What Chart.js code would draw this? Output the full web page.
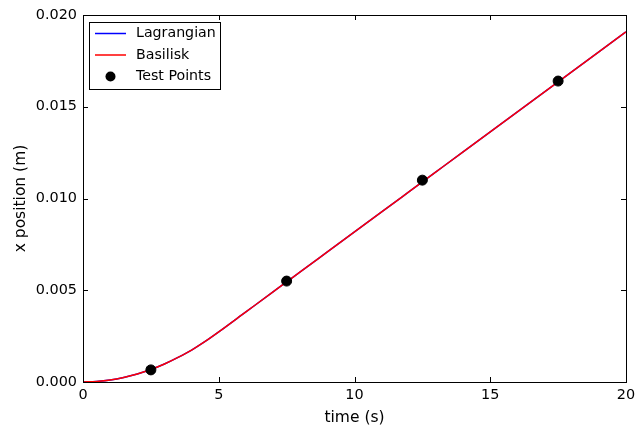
<!DOCTYPE html>
<html>
<head>
<meta charset="utf-8">
<script src="https://cdn.jsdelivr.net/npm/chart.js@4/dist/chart.umd.min.js"></script>
<style>
  html, body { margin: 0; padding: 0; background: #fff; }
  #wrap { width: 637px; height: 431px; }
</style>
</head>
<body>
<div id="wrap"><canvas id="chart"></canvas></div>
<script>
const timeVals = [0, 0.5, 1, 1.5, 2, 2.5, 3, 3.5, 4, 4.5, 5, 6, 7, 7.5, 8, 9, 10, 11, 12, 13, 14, 15, 16, 17, 18, 19, 20];
const lagrangianVals = [0, 0.00003, 0.00011, 0.00025, 0.00044, 0.00068, 0.00098, 0.00134, 0.00174, 0.00221, 0.00273, 0.00382, 0.00491, 0.00546, 0.006, 0.00709, 0.00818, 0.00927, 0.01036, 0.01145, 0.01254, 0.01363, 0.01472, 0.01581, 0.0169, 0.01799, 0.01908];
const basiliskVals = [0, 0.00003, 0.00011, 0.00025, 0.00044, 0.00068, 0.00098, 0.00134, 0.00174, 0.00221, 0.00273, 0.00382, 0.00491, 0.00546, 0.006, 0.00709, 0.00818, 0.00927, 0.01036, 0.01145, 0.01254, 0.01363, 0.01472, 0.01581, 0.0169, 0.01799, 0.01908];
const testTimes = [2.5, 7.5, 12.5, 17.5];
const testVals = [0.00066, 0.0055, 0.011, 0.0164];
const xTicks = [0, 5, 10, 15, 20];
const yTicks = [0, 0.005, 0.010, 0.015, 0.020];

const FONT = "'DejaVu Sans', sans-serif";
const toPts = (xs, ys) => xs.map((x, i) => ({ x: x, y: ys[i] }));

// frame, inward ticks on all four sides, and the legend box
const framePlugin = {
  id: "frame",
  afterDatasetsDraw(chart) {
    const c = chart.ctx;
    const a = chart.chartArea;
    const xs = chart.scales.x, ys = chart.scales.y;
    c.save();
    c.strokeStyle = "#000";
    c.lineWidth = 1;
    c.beginPath();
    xTicks.forEach((t) => {
      const px = Math.round(xs.getPixelForValue(t)) + 0.5;
      c.moveTo(px, a.bottom); c.lineTo(px, a.bottom - 5);
      c.moveTo(px, a.top); c.lineTo(px, a.top + 5);
    });
    yTicks.forEach((t) => {
      const py = Math.round(ys.getPixelForValue(t)) + 0.5;
      c.moveTo(a.left, py); c.lineTo(a.left + 5, py);
      c.moveTo(a.right, py); c.lineTo(a.right - 5, py);
    });
    c.stroke();
    c.strokeRect(Math.round(a.left) + 0.5, Math.round(a.top) + 0.5,
      Math.round(a.right - a.left), Math.round(a.bottom - a.top));

    // legend
    const lx = Math.round(a.left) + 6, ly = Math.round(a.top) + 7;
    c.fillStyle = "#fff";
    c.fillRect(lx, ly, 131, 67);
    c.strokeRect(lx + 0.5, ly + 0.5, 131, 67);
    const items = chart.data.datasets;
    c.font = "14.2px " + FONT;
    c.textBaseline = "middle";
    items.forEach((ds, i) => {
      const yy = ly + 11.5 + i * 21.5;
      if (ds.showLine) {
        c.strokeStyle = ds.borderColor;
        c.lineWidth = 1.5;
        c.beginPath(); c.moveTo(lx + 6, yy); c.lineTo(lx + 37, yy); c.stroke();
      } else {
        c.fillStyle = "#000";
        c.beginPath(); c.arc(lx + 21.5, yy, 5, 0, Math.PI * 2); c.fill();
      }
      c.fillStyle = "#000";
      c.fillText(ds.label, lx + 47, yy);
    });
    c.restore();
  },
};

new Chart(document.getElementById("chart"), {
  type: "scatter",
  data: {
    datasets: [
      {
        label: "Lagrangian",
        data: toPts(timeVals, lagrangianVals),
        showLine: true,
        borderColor: "#0000ff",
        borderWidth: 1.5,
        pointRadius: 0,
        cubicInterpolationMode: "monotone",
        order: 3,
      },
      {
        label: "Basilisk",
        data: toPts(timeVals, basiliskVals),
        showLine: true,
        borderColor: "#ff0000",
        borderWidth: 1.5,
        pointRadius: 0,
        cubicInterpolationMode: "monotone",
        order: 2,
      },
      {
        label: "Test Points",
        data: toPts(testTimes, testVals),
        showLine: false,
        backgroundColor: "#000",
        borderColor: "#000",
        pointRadius: 5,
        order: 1,
      },
    ],
  },
  options: {
    responsive: true,
    maintainAspectRatio: false,
    animation: false,
    layout: { padding: { left: 0, right: 11, top: 15, bottom: 0 } },
    plugins: { legend: { display: false }, tooltip: { enabled: false } },
    scales: {
      x: {
        type: "linear",
        min: 0,
        max: 20,
        afterBuildTicks: (s) => { s.ticks = xTicks.map((v) => ({ value: v })); },
        afterFit: (s) => { s.height = 49; s.paddingLeft = 0; s.paddingRight = 0; },
        grid: { display: false, drawTicks: false },
        border: { display: false },
        ticks: { color: "#000", font: { family: FONT, size: 14.4 }, padding: 5, maxRotation: 0 },
        title: { display: true, text: "time (s)", color: "#000", font: { family: FONT, size: 15.5 }, padding: { top: 3 } },
      },
      y: {
        type: "linear",
        min: 0,
        max: 0.02,
        afterBuildTicks: (s) => { s.ticks = yTicks.map((v) => ({ value: v })); },
        afterFit: (s) => { s.width = 83; s.paddingTop = 0; s.paddingBottom = 0; },
        grid: { display: false, drawTicks: false },
        border: { display: false },
        ticks: { color: "#000", font: { family: FONT, size: 14.4 }, padding: 6, callback: (v) => v.toFixed(3) },
        title: { display: true, text: "x position (m)", color: "#000", font: { family: FONT, size: 15.5 }, padding: { top: 12, bottom: 4 } },
      },
    },
  },
  plugins: [framePlugin],
});
</script>
</body>
</html>
